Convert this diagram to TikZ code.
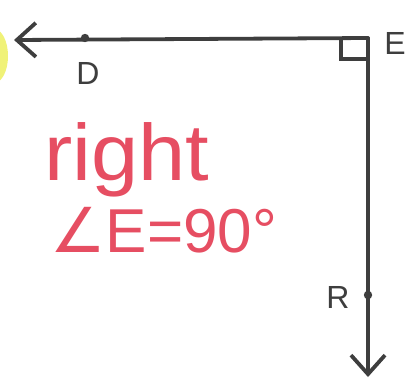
\documentclass[tikz,border=0pt]{standalone}
\usepackage{fontspec}
\setmainfont{Liberation Sans}
\newfontfamily\symfont{DejaVu Sans}
\usetikzlibrary{arrows.meta,positioning,calc}
\definecolor{penink} {RGB}{62,62,62}
\definecolor{penred} {RGB}{230,78,98}
\definecolor{hilite} {RGB}{240,242,120}
\begin{document}
\begin{tikzpicture}[
  x=1pt,y=-1pt,
  ray/.style={penink,line width=3.8pt,line cap=round,line join=round,
              -{Straight Barb[length=19pt,width=34pt,line width=3.8pt]}},
  lbl/.style={penink,font=\fontsize{32}{34}\selectfont,inner sep=0pt},
  note/.style={penred,font=\fontsize{80}{84}\selectfont,inner sep=0pt,anchor=base west},
]
\useasboundingbox (0,0) rectangle (409,381);

%% Highlighter mark on the left edge
\fill[hilite] (-6,56) ellipse[x radius=14,y radius=27];

%% Vertex and points
\coordinate (E) at (368,38);
\coordinate (D) at (85,38);
\coordinate (R) at (368,295);
\coordinate (leftEnd) at (14,40);
\coordinate (downEnd) at (368,377);

%% The two rays
\draw[ray] (E) -- (leftEnd);
\draw[ray] (E) -- (downEnd);

%% Right angle mark
\draw[penink,line width=3.2pt] ($(E)+(-27,0)$) -- ++(0,21) -- ++(27,0);

%% Points on the rays
\fill[penink] (D) circle (4.2pt);
\fill[penink] (R) circle (4.2pt);

%% Labels
\node[lbl] (labelD) at (88,73) {D};
\node[lbl] (labelE) at (395,43) {E};
\node[lbl] (labelR) at (338,297) {R};

%% Red notes
\node[note,xscale=1.06] (noteRight) at (44,180) {right};
\node[note,font=\fontsize{62}{66}\selectfont] (noteAngle) at (50,252) {{\symfont ∠}E=90°};

\end{tikzpicture}
\end{document}
